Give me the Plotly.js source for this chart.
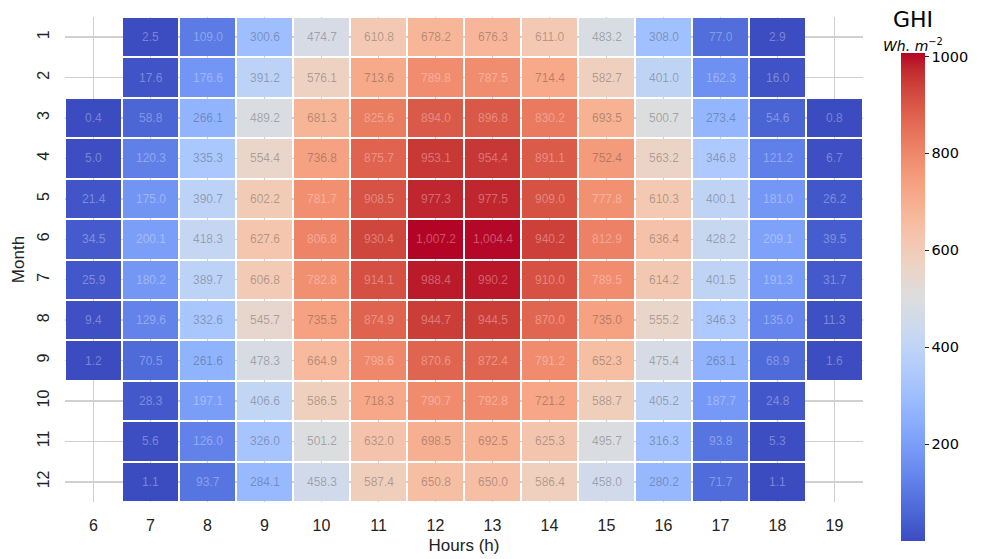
<!DOCTYPE html>
<html><head><meta charset="utf-8">
<script src="https://cdn.plot.ly/plotly-3.0.1.min.js"></script>
<style>html,body{margin:0;padding:0;background:#fff}#chart{width:988px;height:559px}</style>
</head><body><div id="chart"></div>
<script>
const hours = [6, 7, 8, 9, 10, 11, 12, 13, 14, 15, 16, 17, 18, 19];
const months = [1, 2, 3, 4, 5, 6, 7, 8, 9, 10, 11, 12];

const ghi_m01 = [null, 2.5, 109.0, 300.6, 474.7, 610.8, 678.2, 676.3, 611.0, 483.2, 308.0, 77.0, 2.9, null];
const ghi_m02 = [null, 17.6, 176.6, 391.2, 576.1, 713.6, 789.8, 787.5, 714.4, 582.7, 401.0, 162.3, 16.0, null];
const ghi_m03 = [0.4, 58.8, 266.1, 489.2, 681.3, 825.6, 894.0, 896.8, 830.2, 693.5, 500.7, 273.4, 54.6, 0.8];
const ghi_m04 = [5.0, 120.3, 335.3, 554.4, 736.8, 875.7, 953.1, 954.4, 891.1, 752.4, 563.2, 346.8, 121.2, 6.7];
const ghi_m05 = [21.4, 175.0, 390.7, 602.2, 781.7, 908.5, 977.3, 977.5, 909.0, 777.8, 610.3, 400.1, 181.0, 26.2];
const ghi_m06 = [34.5, 200.1, 418.3, 627.6, 806.8, 930.4, 1007.2, 1004.4, 940.2, 812.9, 636.4, 428.2, 209.1, 39.5];
const ghi_m07 = [25.9, 180.2, 389.7, 606.8, 782.8, 914.1, 988.4, 990.2, 910.0, 789.5, 614.2, 401.5, 191.3, 31.7];
const ghi_m08 = [9.4, 129.6, 332.6, 545.7, 735.5, 874.9, 944.7, 944.5, 870.0, 735.0, 555.2, 346.3, 135.0, 11.3];
const ghi_m09 = [1.2, 70.5, 261.6, 478.3, 664.9, 798.6, 870.6, 872.4, 791.2, 652.3, 475.4, 263.1, 68.9, 1.6];
const ghi_m10 = [null, 28.3, 197.1, 406.6, 586.5, 718.3, 790.7, 792.8, 721.2, 588.7, 405.2, 187.7, 24.8, null];
const ghi_m11 = [null, 5.6, 126.0, 326.0, 501.2, 632.0, 698.5, 692.5, 625.3, 495.7, 316.3, 93.8, 5.3, null];
const ghi_m12 = [null, 1.1, 93.7, 284.1, 458.3, 587.4, 650.8, 650.0, 586.4, 458.0, 280.2, 71.7, 1.1, null];

const z = [ghi_m01, ghi_m02, ghi_m03, ghi_m04, ghi_m05, ghi_m06, ghi_m07, ghi_m08, ghi_m09, ghi_m10, ghi_m11, ghi_m12];

// matplotlib "coolwarm" (Moreland) control points
const cwRGB = [
 [59,76,192],[68,90,204],[77,104,215],[87,117,225],[98,130,234],[108,142,241],[119,154,247],[130,165,251],
 [141,176,254],[152,185,255],[163,194,255],[174,201,253],[184,208,249],[194,213,244],[204,217,238],[213,219,230],
 [221,221,221],[229,216,209],[236,211,197],[241,204,184],[245,196,172],[247,187,159],[247,177,147],[247,166,134],
 [244,154,123],[241,141,111],[236,127,99],[229,112,88],[222,96,77],[213,80,66],[203,62,56],[192,40,47],[180,4,38]
];
const coolwarm = cwRGB.map((c, i) => [i / (cwRGB.length - 1), `rgb(${c[0]},${c[1]},${c[2]})`]);

function cwAt(t) {
  t = Math.max(0, Math.min(1, t));
  const p = t * (cwRGB.length - 1);
  const i = Math.min(Math.floor(p), cwRGB.length - 2);
  const f = p - i;
  return cwRGB[i].map((v, k) => v + (cwRGB[i + 1][k] - v) * f);
}
function relLum(rgb) {
  const lin = rgb.map(v => { v /= 255; return v <= 0.03928 ? v / 12.92 : Math.pow((v + 0.055) / 1.055, 2.4); });
  return 0.2126 * lin[0] + 0.7152 * lin[1] + 0.0722 * lin[2];
}

const flat = z.flat().filter(v => v !== null);
const zmin = Math.min(...flat), zmax = Math.max(...flat);

const fmt = v => v.toLocaleString('en-US', {minimumFractionDigits: 1, maximumFractionDigits: 1});

const annotations = [];
z.forEach((row, i) => {
  row.forEach((v, j) => {
    if (v === null) return;
    const lum = relLum(cwAt((v - zmin) / (zmax - zmin)));
    const col = lum > 0.408 ? 'rgba(38,38,38,0.33)' : 'rgba(255,255,255,0.33)';
    annotations.push({
      x: hours[j], y: months[i], xref: 'x', yref: 'y', text: fmt(v), showarrow: false,
      font: {family: 'Liberation Sans, Arial, sans-serif', size: 12, color: col}
    });
  });
});

annotations.push({
  xref: 'paper', yref: 'paper', x: 1.0627, y: 0.995, xanchor: 'center', yanchor: 'middle',
  text: 'GHI', showarrow: false, font: {family: 'DejaVu Sans, sans-serif', size: 22, color: '#000'}
});
annotations.push({
  xref: 'paper', yref: 'paper', x: 1.0627, y: 0.942, xanchor: 'center', yanchor: 'middle',
  text: '<i>Wh.</i> <i>m</i><sup>−2</sup>', showarrow: false, font: {family: 'DejaVu Sans, sans-serif', size: 14, color: '#000'}
});

const trace = {
  type: 'heatmap', x: hours, y: months, z: z,
  colorscale: coolwarm, zmin: zmin, zmax: zmax,
  xgap: 2, ygap: 2, hoverongaps: false,
  colorbar: {
    thickness: 24, lenmode: 'pixels', len: 488,
    x: 1.0476, xanchor: 'left', y: 0.4227, yanchor: 'middle',
    xpad: 0, ypad: 0, outlinewidth: 0,
    ticks: 'outside', ticklen: 4, tickwidth: 1, tickcolor: '#222',
    tickvals: [200, 400, 600, 800, 1000],
    tickfont: {family: 'DejaVu Sans, sans-serif', size: 14.5, color: '#000'}
  }
};

const axisFont = {family: 'Liberation Sans, Arial, sans-serif', size: 16, color: '#222'};
const layout = {
  width: 988, height: 559,
  margin: {l: 65, r: 125, t: 17, b: 57},
  paper_bgcolor: '#fff', plot_bgcolor: '#fff',
  xaxis: {
    range: [5.5, 19.5], tickvals: hours, ticks: '', showgrid: true, gridcolor: '#d0d0d0', gridwidth: 1.5,
    zeroline: false, showline: false, tickfont: axisFont, ticklabelstandoff: 12,
    title: {text: 'Hours (h)', font: {family: 'Liberation Sans, Arial, sans-serif', size: 17, color: '#222'}, standoff: 6}
  },
  yaxis: {
    range: [12.5, 0.5], tickvals: months, ticks: '', showgrid: true, gridcolor: '#d0d0d0', gridwidth: 1.5,
    zeroline: false, showline: false, tickfont: axisFont, tickangle: -90, ticklabelstandoff: 12,
    title: {text: 'Month', font: {family: 'Liberation Sans, Arial, sans-serif', size: 17, color: '#222'}, standoff: 5}
  },
  annotations: annotations
};

Plotly.newPlot('chart', [trace], layout, {displayModeBar: false, staticPlot: true});
</script>
</body></html>
